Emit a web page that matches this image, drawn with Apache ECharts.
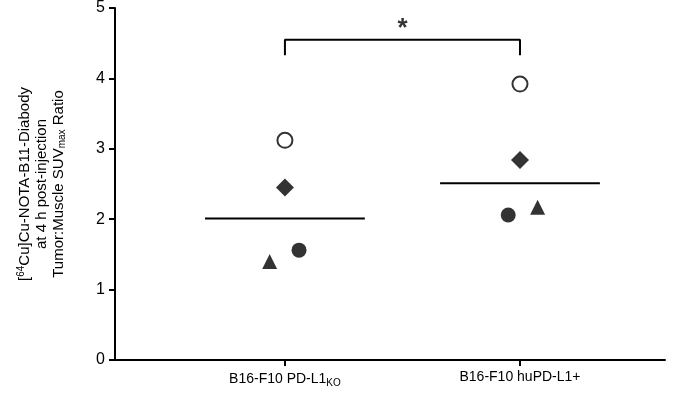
<!DOCTYPE html><html><head><meta charset="utf-8"><script src="https://cdn.jsdelivr.net/npm/echarts@6/dist/echarts.min.js"></script></head><body style="margin:0"><div id="c" style="width:685px;height:402px"></div><script>
const categories=['B16-F10 PD-L1KO','B16-F10 huPD-L1+'];
const openCircle=[[0,3.12],[1,3.92]];
const diamond=[[0,2.45],[1,2.84]];
const triangle=[[-0.065,1.40],[1.075,2.17]];
const filledCircle=[[0.06,1.56],[0.95,2.06]];
const means=[2.01,2.51];
const yTicks=[0,1,2,3,4,5];
const c=echarts.init(document.getElementById('c'));
const ff='Liberation Sans, Arial, sans-serif';
function pts(data,symbol,size,extra){return Object.assign({type:'scatter',data,symbol,symbolSize:size,itemStyle:{color:'#000'},z:5},extra||{});}
c.setOption({animation:false,
grid:{left:115,right:20,top:8,bottom:42},
xAxis:{type:'value',min:-0.723,max:1.617,splitLine:{show:false},
 axisLine:{onZero:false,lineStyle:{color:'#000',width:2}},
 axisTick:{customValues:[0,1],length:6,lineStyle:{color:'#000',width:2}},
 axisLabel:{customValues:[0,1],color:'#000',fontFamily:ff,fontSize:14,margin:10,
  formatter:v=>v===0?'B16-F10 PD-L1{s|KO}':'B16-F10 huPD-L1+',rich:{s:{fontSize:10,verticalAlign:'bottom',padding:[8,0,0,0],color:'#000'}}}},
yAxis:{type:'value',min:0,max:5,interval:1,splitLine:{show:false},
 axisLine:{show:true,onZero:false,lineStyle:{color:'#000',width:2}},
 axisTick:{show:true,length:6,lineStyle:{color:'#000',width:2}},
 axisLabel:{color:'#000',fontFamily:ff,fontSize:16,margin:10},
 name:'[{sup|64}Cu]Cu-NOTA-B11-Diabody\nat 4 h post-injection\nTumor:Muscle SUV{sub|max} Ratio',
 nameLocation:'middle',nameGap:48,nameRotate:90,
 nameTextStyle:{color:'#000',fontFamily:ff,fontSize:15,lineHeight:17,align:'center',
  rich:{sup:{fontSize:10,verticalAlign:'top',padding:[0,0,8,0]},sub:{fontSize:10,padding:[8,0,0,0]}}}},
series:[
 pts(openCircle,'emptyCircle',15,{itemStyle:{color:'#000',borderWidth:3,borderColor:'#000'}}),
 pts(diamond,'diamond',18),
 pts(triangle,'triangle',15),
 pts(filledCircle,'circle',15),
 {type:'line',data:[[-0.34,means[0]],[0.34,means[0]]],symbol:'none',lineStyle:{color:'#000',width:2}},
 {type:'line',data:[[0.66,means[1]],[1.34,means[1]]],symbol:'none',lineStyle:{color:'#000',width:2}},
 {type:'line',data:[[0,4.33],[0,4.55],[1,4.55],[1,4.33]],symbol:'none',lineStyle:{color:'#000',width:2}},
 {type:'scatter',data:[[0.5,4.7]],symbolSize:0,label:{show:true,formatter:'*',fontSize:26,fontWeight:'bold',color:'#000',fontFamily:ff}}
]});
</script></body></html>
